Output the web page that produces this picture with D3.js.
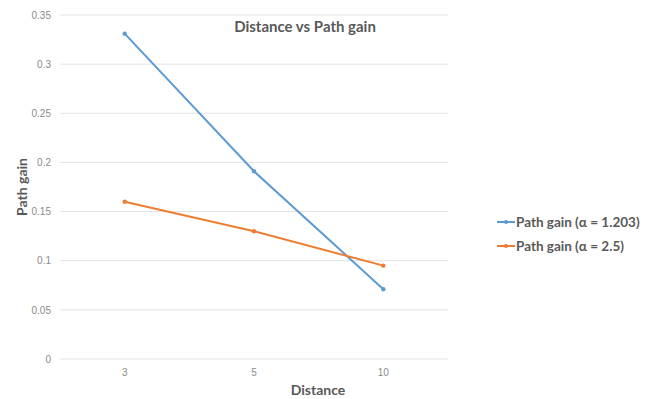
<!DOCTYPE html>
<html>
<head>
<meta charset="utf-8">
<script src="https://cdn.jsdelivr.net/npm/d3@7"></script>
<style>
  html, body { margin: 0; padding: 0; background: #fff; }
  svg { display: block; font-family: Lato, "Open Sans", "DejaVu Sans", sans-serif; }
</style>
</head>
<body>
<svg id="chart" width="665" height="399"></svg>
<script>
// Distances (category axis)
const distances = ["3", "5", "10"];
// Path gain for each exponent
const gainAlpha1203 = [0.331, 0.191, 0.071];
const gainAlpha25 = [0.160, 0.130, 0.095];
const seriesNames = ["Path gain (\u03B1 = 1.203)", "Path gain (\u03B1 = 2.5)"];
const yTicks = [0, 0.05, 0.1, 0.15, 0.2, 0.25, 0.3, 0.35];

const series = [
  { name: seriesNames[0], values: gainAlpha1203, color: "#5b9bd5" },
  { name: seriesNames[1], values: gainAlpha25, color: "#ed7d31" }
];

const svg = d3.select("#chart");
const plot = { left: 60, right: 448, top: 15, bottom: 359 };

const x = d3.scaleBand().domain(distances).range([plot.left, plot.right]);
const y = d3.scaleLinear().domain([0, 0.35]).range([plot.bottom, plot.top]);

// Horizontal gridlines
svg.append("g")
  .selectAll("line")
  .data(yTicks)
  .join("line")
  .attr("x1", plot.left)
  .attr("x2", plot.right)
  .attr("y1", d => y(d))
  .attr("y2", d => y(d))
  .attr("stroke", "#e3e3e3")
  .attr("stroke-width", 1);

// Y axis labels
const yAxis = d3.axisLeft(y).tickValues(yTicks).tickSize(0).tickPadding(9)
  .tickFormat(d => d3.format("~g")(d));
svg.append("g")
  .attr("transform", `translate(${plot.left},0)`)
  .call(yAxis)
  .call(g => g.select(".domain").remove())
  .selectAll("text")
  .attr("fill", "#8a8a8a")
  .style("font-size", "10px");

// X axis labels
const xAxis = d3.axisBottom(x).tickSize(0).tickPadding(10);
svg.append("g")
  .attr("transform", `translate(0,${plot.bottom})`)
  .call(xAxis)
  .call(g => g.select(".domain").remove())
  .selectAll("text")
  .attr("fill", "#8a8a8a")
  .style("font-size", "10px");

// Series lines and markers
const line = d3.line()
  .x((d, i) => x(distances[i]) + x.bandwidth() / 2)
  .y(d => y(d));

series.forEach(s => {
  svg.append("path")
    .datum(s.values)
    .attr("d", line)
    .attr("fill", "none")
    .attr("stroke", s.color)
    .attr("stroke-width", 2);
  svg.append("g")
    .selectAll("circle")
    .data(s.values)
    .join("circle")
    .attr("cx", (d, i) => x(distances[i]) + x.bandwidth() / 2)
    .attr("cy", d => y(d))
    .attr("r", 2.2)
    .attr("fill", s.color);
});

// Title
svg.append("text")
  .attr("x", 305)
  .attr("y", 32)
  .attr("text-anchor", "middle")
  .attr("fill", "#595959")
  .style("font-size", "15px")
  .style("font-weight", "bold")
  .text("Distance vs Path gain");

// Axis titles
svg.append("text")
  .attr("x", 318)
  .attr("y", 395)
  .attr("text-anchor", "middle")
  .attr("fill", "#595959")
  .style("font-size", "14px")
  .style("font-weight", "bold")
  .text("Distance");

svg.append("text")
  .attr("transform", "translate(27,187) rotate(-90)")
  .attr("text-anchor", "middle")
  .attr("fill", "#595959")
  .style("font-size", "14px")
  .style("font-weight", "bold")
  .text("Path gain");

// Legend
const legend = svg.append("g");
series.forEach((s, i) => {
  const ly = 222 + i * 24;
  legend.append("line")
    .attr("x1", 497).attr("x2", 515)
    .attr("y1", ly).attr("y2", ly)
    .attr("stroke", s.color).attr("stroke-width", 2);
  legend.append("circle")
    .attr("cx", 506).attr("cy", ly).attr("r", 2)
    .attr("fill", s.color);
  legend.append("text")
    .attr("x", 516)
    .attr("y", ly + 4.5)
    .attr("fill", "#595959")
    .style("font-size", "13.5px")
    .style("font-weight", "bold")
    .text(s.name);
});
</script>
</body>
</html>
